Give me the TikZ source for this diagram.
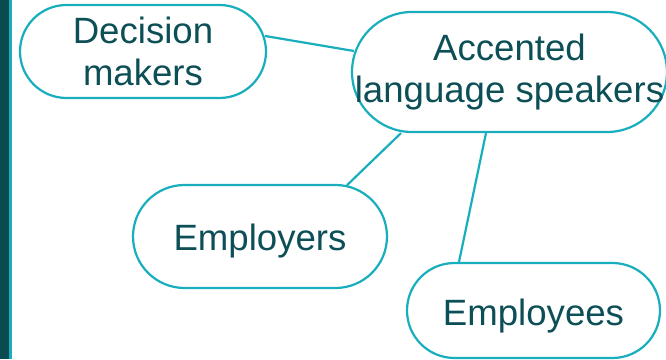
\documentclass[tikz,border=0pt]{standalone}
\usepackage{fontspec}
\setmainfont{Liberation Sans}
\usetikzlibrary{calc}
\definecolor{bordc}{HTML}{18AEBE}
\definecolor{txtc}{HTML}{0D4F56}
\definecolor{barc}{HTML}{0B4A50}
\begin{document}
\begin{tikzpicture}[x=1pt,y=1pt,
  pill/.style={draw=bordc, line width=2.2pt, fill=white, inner sep=0pt,
    text=txtc, align=center, font=\fontsize{36.6}{42}\selectfont},
  link/.style={draw=bordc, line width=2.2pt}]
\useasboundingbox (0,0) rectangle (666,359);
\clip (0,0) rectangle (666,359);
% left bar
\fill[barc] (0,0) rectangle (9,359);
\fill[bordc] (9,0) rectangle (12,359);
% nodes
\node[pill, minimum width=246pt, minimum height=93pt, rounded corners=46.5pt] (dm) at (143,307.5) {Decision\\makers};
\node[pill, minimum width=315pt, minimum height=120pt, rounded corners=60pt] (acc) at (509.5,287) {Accented\\language speakers};
\node[pill, minimum width=254pt, minimum height=103pt, rounded corners=51.5pt, text height=28pt, text depth=0pt] (emr) at (260,122.5) {Employers};
\node[pill, minimum width=253pt, minimum height=95pt, rounded corners=47.5pt, text height=29pt, text depth=0pt] (emp) at (533.5,48.5) {Employees};
% connectors
\draw[link] ($(dm.east)+(-2,15.5)$) -- ($(acc.west)+(3,21)$);
\draw[link] ($(acc.south)+(-108.5,0)$) -- ($(emr.north)+(87,-1.3)$);
\draw[link] ($(acc.south)+(-23.5,0)$) -- ($(emp.north)+(-74.5,0)$);
\end{tikzpicture}
\end{document}
